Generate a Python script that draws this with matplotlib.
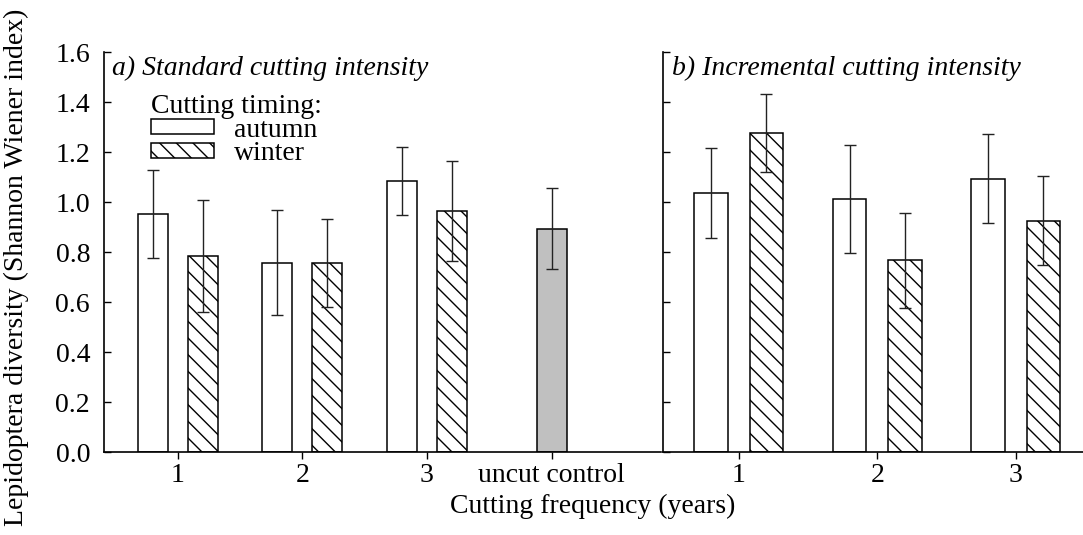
import numpy as np
import matplotlib
matplotlib.use('Agg')
import matplotlib.pyplot as plt
from matplotlib.patches import Patch

plt.rcParams['font.family'] = ['Liberation Serif', 'DejaVu Serif']
plt.rcParams['hatch.linewidth'] = 1.0
fs = 20

# a) standard cutting intensity
freq_a = ['1', '2', '3']
autumn_a = [0.953, 0.757, 1.084]
autumn_a_err = [0.175, 0.21, 0.136]
winter_a = [0.784, 0.757, 0.965]
winter_a_err = [0.225, 0.175, 0.2]
control = 0.893
control_err = 0.162

# b) incremental cutting intensity
freq_b = ['1', '2', '3']
autumn_b = [1.037, 1.012, 1.093]
autumn_b_err = [0.181, 0.217, 0.178]
winter_b = [1.277, 0.767, 0.925]
winter_b_err = [0.156, 0.191, 0.178]

fig = plt.figure(figsize=(10.83, 5.35), dpi=100)
axa = fig.add_axes([0.0960, 0.1551, 0.5143, 0.7477])
axb = fig.add_axes([0.6122, 0.1551, 0.3878, 0.7477])

w = 0.24
off = 0.2
eb = dict(ecolor='#222222', elinewidth=1.0, capsize=4.3, capthick=1.0)

x = np.arange(1, 4)
axa.bar(x - off, autumn_a, w, yerr=autumn_a_err, color='white', edgecolor='black',
        linewidth=1.1, error_kw=eb)
axa.bar(x + off, winter_a, w, yerr=winter_a_err, color='white', edgecolor='black',
        linewidth=1.1, hatch='\\\\', error_kw=eb)
axa.bar([4], [control], w, yerr=[control_err], color='#c0c0c0', edgecolor='black',
        linewidth=1.1, error_kw=eb)
axa.set_xlim(0.409, 4.877)
axa.set_xticks([1, 2, 3, 4])
axa.set_xticklabels(freq_a + ['uncut control'])

axb.bar(x - off, autumn_b, w, yerr=autumn_b_err, color='white', edgecolor='black',
        linewidth=1.1, error_kw=eb)
axb.bar(x + off, winter_b, w, yerr=winter_b_err, color='white', edgecolor='black',
        linewidth=1.1, hatch='\\\\', error_kw=eb)
axb.set_xlim(0.453, 3.486)
axb.set_xticks([1, 2, 3])
axb.set_xticklabels(freq_b)

for ax in (axa, axb):
    ax.set_ylim(0, 1.6)
    ax.set_yticks(np.arange(0, 1.61, 0.2))
    ax.spines['top'].set_visible(False)
    ax.spines['right'].set_visible(False)
    ax.spines['left'].set_linewidth(1.2)
    ax.spines['bottom'].set_linewidth(1.2)
    ax.tick_params(axis='y', direction='in', length=5, width=1.0, labelsize=fs, pad=10)
    ax.tick_params(axis='x', direction='out', length=5, width=1.0, labelsize=fs, pad=3)

axa.set_yticklabels(['%.1f' % v for v in np.arange(0, 1.61, 0.2)])
axb.tick_params(axis='y', labelleft=False)

axa.text(0.015, 0.99, 'a) Standard cutting intensity', transform=axa.transAxes,
         style='italic', fontsize=fs, va='top', ha='left')
axb.text(0.022, 0.99, 'b) Incremental cutting intensity', transform=axb.transAxes,
         style='italic', fontsize=fs, va='top', ha='left')

handles = [Patch(facecolor='white', edgecolor='black', linewidth=1.1),
           Patch(facecolor='white', edgecolor='black', linewidth=1.1, hatch='\\\\')]
leg = axa.legend(handles, ['autumn', 'winter'], title='Cutting timing:', loc='upper left',
                 bbox_to_anchor=(0.085, 0.895), frameon=False, fontsize=fs,
                 title_fontsize=fs, handlelength=2.25, handleheight=0.45,
                 handletextpad=0.72, labelspacing=-0.05, borderpad=0, borderaxespad=0)
leg._legend_box.align = 'left'

axa.set_ylabel('Lepidoptera diversity (Shannon Wiener index)', fontsize=fs)
axa.yaxis.set_label_coords(-0.135, 0.461)
fig.text(593 / 1083, 1 - 506 / 535, 'Cutting frequency (years)', fontsize=fs,
         ha='center', va='center')

fig.savefig('out.png', dpi=100)
